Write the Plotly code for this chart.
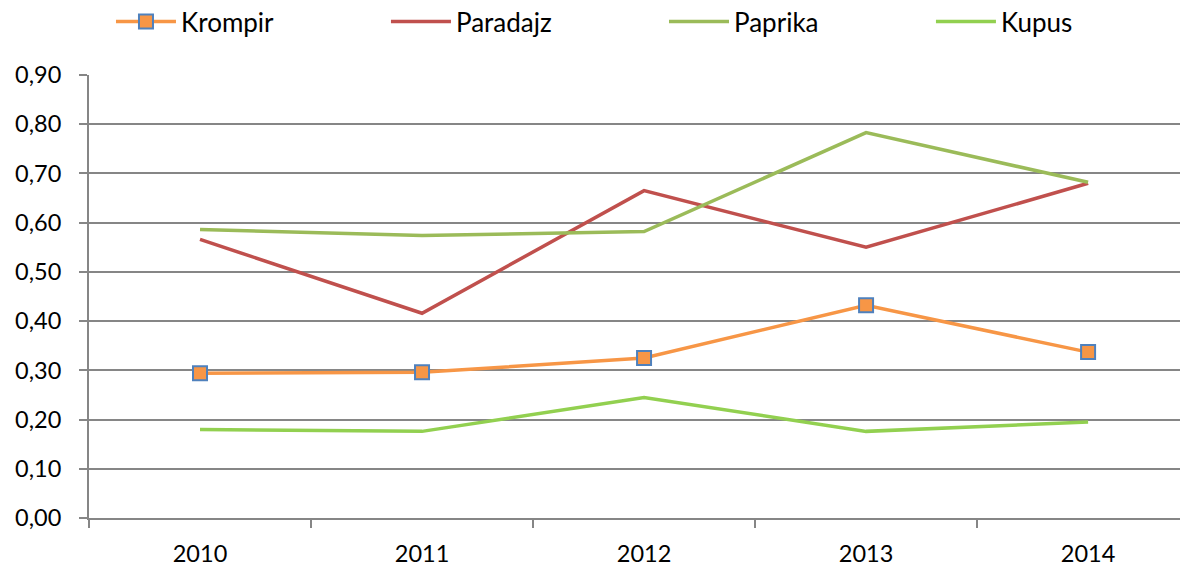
import plotly.graph_objects as go

years = ["2010", "2011", "2012", "2013", "2014"]
krompir = [0.294, 0.296, 0.325, 0.432, 0.337]
paradajz = [0.566, 0.416, 0.665, 0.550, 0.680]
paprika = [0.586, 0.574, 0.582, 0.783, 0.682]
kupus = [0.180, 0.176, 0.245, 0.176, 0.195]
y_ticks = [0, 0.1, 0.2, 0.3, 0.4, 0.5, 0.6, 0.7, 0.8, 0.9]

fig = go.Figure()
fig.add_trace(go.Scatter(
    x=years, y=krompir, name="Krompir", mode="lines+markers", legend="legend",
    line=dict(color="#F79646", width=3.5),
    marker=dict(symbol="square", size=14, color="#F79646",
                line=dict(color="#4F81BD", width=2)),
))
fig.add_trace(go.Scatter(
    x=years, y=paradajz, name="Paradajz", mode="lines", legend="legend2",
    line=dict(color="#C0504D", width=3.5),
))
fig.add_trace(go.Scatter(
    x=years, y=paprika, name="Paprika", mode="lines", legend="legend3",
    line=dict(color="#9BBB59", width=3.5),
))
fig.add_trace(go.Scatter(
    x=years, y=kupus, name="Kupus", mode="lines", legend="legend4",
    line=dict(color="#92D050", width=3.5),
))

grid = "#868686"


def leg(xpos):
    return dict(
        orientation="h", xref="paper", yref="container",
        x=xpos, y=0.976, xanchor="left", yanchor="middle",
        itemwidth=60,
        font=dict(size=26, color="#000000"),
        bgcolor="rgba(0,0,0,0)",
    )


fig.update_layout(
    width=1180, height=563,
    margin=dict(l=81, r=0, t=67, b=53),
    paper_bgcolor="white", plot_bgcolor="white",
    separators=", ",
    font=dict(family="Lato, Open Sans, sans-serif", size=23.5, color="#000000"),
    showlegend=True,
    legend=leg(0.0200),
    legend2=leg(0.2702),
    legend3=leg(0.5232),
    legend4=leg(0.7661),
    xaxis=dict(
        type="category", range=[-0.5, 4.45], automargin=False,
        showgrid=False, showline=True, linecolor=grid, linewidth=2,
        ticks="outside", tickson="boundaries", ticklen=8, tickcolor=grid, tickwidth=2,
        ticklabelstandoff=14,
        tickfont=dict(size=23.5, color="#000000"),
    ),
    yaxis=dict(
        range=[0, 0.9], tickvals=y_ticks, tickformat=".2f", automargin=False,
        showgrid=True, gridcolor=grid, gridwidth=2,
        showline=True, linecolor=grid, linewidth=2,
        ticks="outside", ticklen=8, tickcolor=grid, tickwidth=2,
        ticklabelstandoff=13,
        zeroline=False,
        tickfont=dict(size=23.5, color="#000000"),
    ),
)

fig.write_html("out.html")
